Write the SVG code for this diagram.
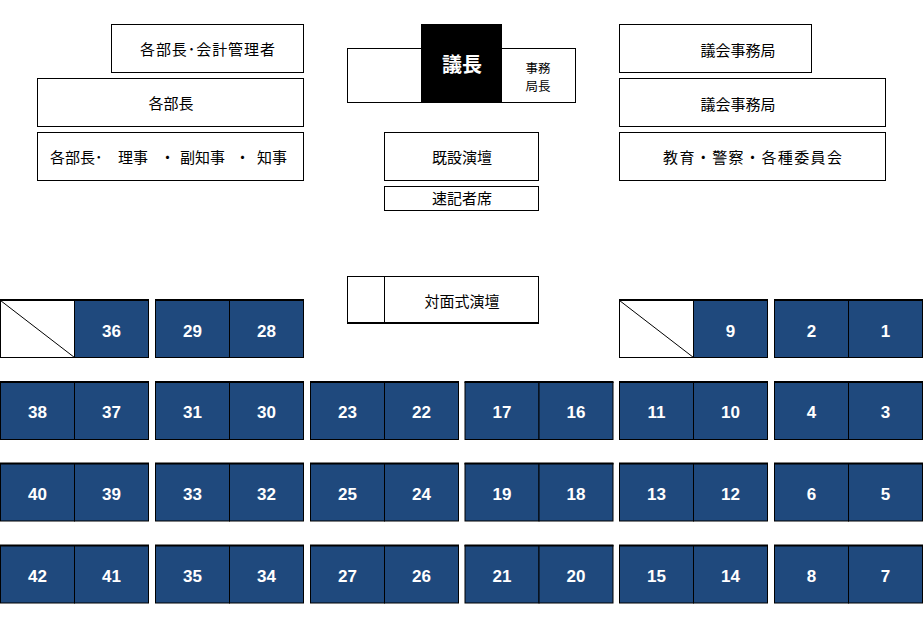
<svg xmlns="http://www.w3.org/2000/svg" width="924" height="629" viewBox="0 0 924 629">
<style>
.box{fill:#fff;stroke:#000;stroke-width:1}
.seat{fill:#1F497D;stroke:#000;stroke-width:1}
.empty{fill:#fff;stroke:#000;stroke-width:1}
.top{stroke:#000;stroke-width:2}
.diag{stroke:#000;stroke-width:1}
.lbl{font-family:"Noto Sans CJK JP","Noto Sans CJK SC",sans-serif;font-size:15px;fill:#000;text-anchor:middle}
.num{font-family:"Liberation Sans",Arial,sans-serif;font-weight:bold;font-size:17px;fill:#fff;text-anchor:middle}
</style>
<rect width="924" height="629" fill="#fff"/>
<g id="kaikei"><rect class="box" x="111.5" y="24.5" width="192" height="48"/><text class="lbl" x="207.5" y="55" textLength="135" lengthAdjust="spacing">各部長･会計管理者</text></g>
<g id="bucho"><rect class="box" x="37.5" y="78.5" width="266" height="48"/><text class="lbl" x="171" y="109">各部長</text></g>
<g id="chiji"><rect class="box" x="37.5" y="132.5" width="266" height="48"/><text class="lbl" y="162.5" style="text-anchor:start"><tspan x="50">各部長･</tspan><tspan x="118">理事</tspan><tspan x="160">・</tspan><tspan x="180">副知事</tspan><tspan x="235">・</tspan><tspan x="257">知事</tspan></text></g>
<g id="gicho-area"><rect class="box" x="347.5" y="48.5" width="228" height="54"/></g>
<g id="gicho"><rect x="421" y="24" width="81" height="79" fill="#000"/><text x="462" y="71.5" style="font-family:'Noto Sans CJK JP',sans-serif;font-weight:bold;font-size:20px;fill:#fff;text-anchor:middle">議長</text></g>
<g id="jimukyokucho"><text class="lbl" x="538" y="72.5" style="font-size:12.5px">事務</text><text class="lbl" x="538" y="90.5" style="font-size:12.5px">局長</text></g>
<g id="kisetsu"><rect class="box" x="384.5" y="132.5" width="154" height="48"/><text class="lbl" x="462" y="163">既設演壇</text></g>
<g id="sokki"><rect class="box" x="384.5" y="186.5" width="154" height="24"/><text class="lbl" x="462" y="204">速記者席</text></g>
<g id="taimen"><rect class="box" x="347.5" y="276.5" width="191" height="47"/><line class="diag" x1="384.5" y1="276.5" x2="384.5" y2="323.5"/><line class="top" x1="347" y1="323" x2="539" y2="323"/><text class="lbl" x="462" y="307">対面式演壇</text></g>
<g id="jimukyoku1"><rect class="box" x="619.5" y="24.5" width="192" height="48"/><text class="lbl" x="738" y="56">議会事務局</text></g>
<g id="jimukyoku2"><rect class="box" x="619.5" y="78.5" width="266" height="48"/><text class="lbl" x="738" y="109.5">議会事務局</text></g>
<g id="iinkai"><rect class="box" x="619.5" y="132.5" width="266" height="48"/><text class="lbl" x="752.5" y="163" textLength="179" lengthAdjust="spacing">教育・警察・各種委員会</text></g>

<g id="row1">
<g id="seat-x1"><rect class="empty" x="0.5" y="300.5" width="74" height="57"/><line class="diag" x1="0.5" y1="300.5" x2="74.5" y2="357.5"/></g>
<g id="seat36"><rect class="seat" x="74.5" y="300.5" width="74" height="57"/><text class="num" x="111.5" y="336.7">36</text></g>
<g id="seat29"><rect class="seat" x="155.5" y="300.5" width="74" height="57"/><text class="num" x="192.5" y="336.7">29</text></g>
<g id="seat28"><rect class="seat" x="229.5" y="300.5" width="74" height="57"/><text class="num" x="266.5" y="336.7">28</text></g>
<g id="seat-x2"><rect class="empty" x="619.5" y="300.5" width="74" height="57"/><line class="diag" x1="619.5" y1="300.5" x2="693.5" y2="357.5"/></g>
<g id="seat9"><rect class="seat" x="693.5" y="300.5" width="74" height="57"/><text class="num" x="730.5" y="336.7">9</text></g>
<g id="seat2"><rect class="seat" x="774.5" y="300.5" width="74" height="57"/><text class="num" x="811.5" y="336.7">2</text></g>
<g id="seat1"><rect class="seat" x="848.5" y="300.5" width="74" height="57"/><text class="num" x="885.5" y="336.7">1</text></g>
<path class="top" d="M0 300H149M155 300H304M619 300H768M774 300H923"/>
</g>

<g id="row2">
<g id="seat38"><rect class="seat" x="0.5" y="382.5" width="74" height="57"/><text class="num" x="37.5" y="418.3">38</text></g>
<g id="seat37"><rect class="seat" x="74.5" y="382.5" width="74" height="57"/><text class="num" x="111.5" y="418.3">37</text></g>
<g id="seat31"><rect class="seat" x="155.5" y="382.5" width="74" height="57"/><text class="num" x="192.5" y="418.3">31</text></g>
<g id="seat30"><rect class="seat" x="229.5" y="382.5" width="74" height="57"/><text class="num" x="266.5" y="418.3">30</text></g>
<g id="seat23"><rect class="seat" x="310.5" y="382.5" width="74" height="57"/><text class="num" x="347.5" y="418.3">23</text></g>
<g id="seat22"><rect class="seat" x="384.5" y="382.5" width="74" height="57"/><text class="num" x="421.5" y="418.3">22</text></g>
<g id="seat17"><rect class="seat" x="465" y="382.5" width="74" height="57"/><text class="num" x="502" y="418.3">17</text></g>
<g id="seat16"><rect class="seat" x="539" y="382.5" width="74" height="57"/><text class="num" x="576" y="418.3">16</text></g>
<g id="seat11"><rect class="seat" x="619.5" y="382.5" width="74" height="57"/><text class="num" x="656.5" y="418.3">11</text></g>
<g id="seat10"><rect class="seat" x="693.5" y="382.5" width="74" height="57"/><text class="num" x="730.5" y="418.3">10</text></g>
<g id="seat4"><rect class="seat" x="774.5" y="382.5" width="74" height="57"/><text class="num" x="811.5" y="418.3">4</text></g>
<g id="seat3"><rect class="seat" x="848.5" y="382.5" width="74" height="57"/><text class="num" x="885.5" y="418.3">3</text></g>
<path class="top" d="M0 382H149M155 382H304M310 382H459M464.5 382H613.5M619 382H768M774 382H923"/>
</g>

<g id="row3">
<g id="seat40"><rect class="seat" x="0.5" y="463.5" width="74" height="57.5"/><text class="num" x="37.5" y="500">40</text></g>
<g id="seat39"><rect class="seat" x="74.5" y="463.5" width="74" height="57.5"/><text class="num" x="111.5" y="500">39</text></g>
<g id="seat33"><rect class="seat" x="155.5" y="463.5" width="74" height="57.5"/><text class="num" x="192.5" y="500">33</text></g>
<g id="seat32"><rect class="seat" x="229.5" y="463.5" width="74" height="57.5"/><text class="num" x="266.5" y="500">32</text></g>
<g id="seat25"><rect class="seat" x="310.5" y="463.5" width="74" height="57.5"/><text class="num" x="347.5" y="500">25</text></g>
<g id="seat24"><rect class="seat" x="384.5" y="463.5" width="74" height="57.5"/><text class="num" x="421.5" y="500">24</text></g>
<g id="seat19"><rect class="seat" x="465" y="463.5" width="74" height="57.5"/><text class="num" x="502" y="500">19</text></g>
<g id="seat18"><rect class="seat" x="539" y="463.5" width="74" height="57.5"/><text class="num" x="576" y="500">18</text></g>
<g id="seat13"><rect class="seat" x="619.5" y="463.5" width="74" height="57.5"/><text class="num" x="656.5" y="500">13</text></g>
<g id="seat12"><rect class="seat" x="693.5" y="463.5" width="74" height="57.5"/><text class="num" x="730.5" y="500">12</text></g>
<g id="seat6"><rect class="seat" x="774.5" y="463.5" width="74" height="57.5"/><text class="num" x="811.5" y="500">6</text></g>
<g id="seat5"><rect class="seat" x="848.5" y="463.5" width="74" height="57.5"/><text class="num" x="885.5" y="500">5</text></g>
<path class="top" d="M0 463.5H149M155 463.5H304M310 463.5H459M464.5 463.5H613.5M619 463.5H768M774 463.5H923"/>
</g>

<g id="row4">
<g id="seat42"><rect class="seat" x="0.5" y="545.5" width="74" height="57.5"/><text class="num" x="37.5" y="582.3">42</text></g>
<g id="seat41"><rect class="seat" x="74.5" y="545.5" width="74" height="57.5"/><text class="num" x="111.5" y="582.3">41</text></g>
<g id="seat35"><rect class="seat" x="155.5" y="545.5" width="74" height="57.5"/><text class="num" x="192.5" y="582.3">35</text></g>
<g id="seat34"><rect class="seat" x="229.5" y="545.5" width="74" height="57.5"/><text class="num" x="266.5" y="582.3">34</text></g>
<g id="seat27"><rect class="seat" x="310.5" y="545.5" width="74" height="57.5"/><text class="num" x="347.5" y="582.3">27</text></g>
<g id="seat26"><rect class="seat" x="384.5" y="545.5" width="74" height="57.5"/><text class="num" x="421.5" y="582.3">26</text></g>
<g id="seat21"><rect class="seat" x="465" y="545.5" width="74" height="57.5"/><text class="num" x="502" y="582.3">21</text></g>
<g id="seat20"><rect class="seat" x="539" y="545.5" width="74" height="57.5"/><text class="num" x="576" y="582.3">20</text></g>
<g id="seat15"><rect class="seat" x="619.5" y="545.5" width="74" height="57.5"/><text class="num" x="656.5" y="582.3">15</text></g>
<g id="seat14"><rect class="seat" x="693.5" y="545.5" width="74" height="57.5"/><text class="num" x="730.5" y="582.3">14</text></g>
<g id="seat8"><rect class="seat" x="774.5" y="545.5" width="74" height="57.5"/><text class="num" x="811.5" y="582.3">8</text></g>
<g id="seat7"><rect class="seat" x="848.5" y="545.5" width="74" height="57.5"/><text class="num" x="885.5" y="582.3">7</text></g>
<path class="top" d="M0 545.5H149M155 545.5H304M310 545.5H459M464.5 545.5H613.5M619 545.5H768M774 545.5H923"/>
</g>
<g id="connectors"></g>
</svg>
